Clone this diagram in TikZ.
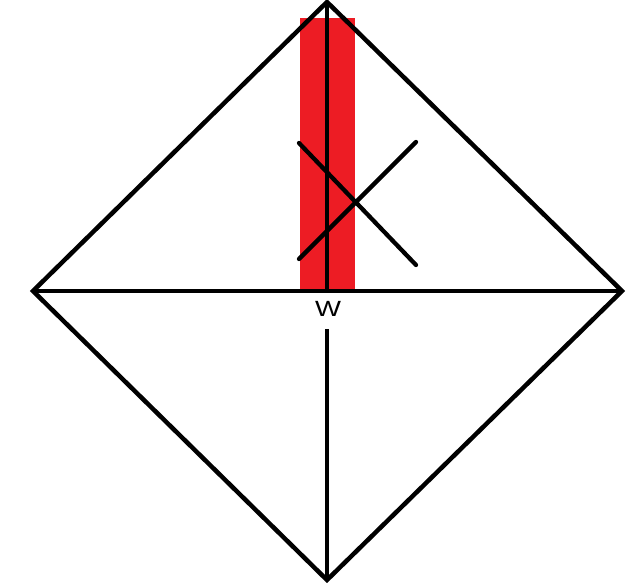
\documentclass[tikz,border=0pt]{standalone}
\usepackage{fontspec}
\newfontfamily\labelfont{Liberation Sans}
\begin{document}
\begin{tikzpicture}[x=1pt,y=-1pt,
  every node/.style={inner sep=0pt},
  corner/.style={coordinate},
  edge line/.style={line width=4.5pt,line join=miter},
  cross line/.style={line width=4.3pt,line cap=round},
  band/.style={fill={rgb,255:red,237;green,28;blue,36}},
  letter/.style={font=\labelfont\fontsize{22pt}{22pt}\selectfont}
]
\useasboundingbox (0,0) rectangle (627,583);
\fill[band] (300,18) rectangle (355,289);
\node[corner] (top) at (327,2) {};
\node[corner] (left) at (33,291) {};
\node[corner] (right) at (622,291) {};
\node[corner] (bottom) at (327,580) {};
\node[corner] (mid) at (327,291) {};
\node[letter] (w) at (328,308.5) {\scalebox{1.25}[1]{W}};
\node[corner] (stem) at (327,329) {};
\node[corner] (xa) at (299,143) {};
\node[corner] (xb) at (416,265) {};
\node[corner] (xc) at (299,259) {};
\node[corner] (xd) at (416,142) {};
% diamond
\draw[edge line] (top) -- (right) -- (bottom) -- (left) -- cycle;
\draw[edge line] (left) -- (right);
\draw[edge line] (top) -- (mid);
\draw[edge line] (stem) -- (bottom);
% cross
\draw[cross line] (xa) -- (xb);
\draw[cross line] (xc) -- (xd);
\end{tikzpicture}
\end{document}
